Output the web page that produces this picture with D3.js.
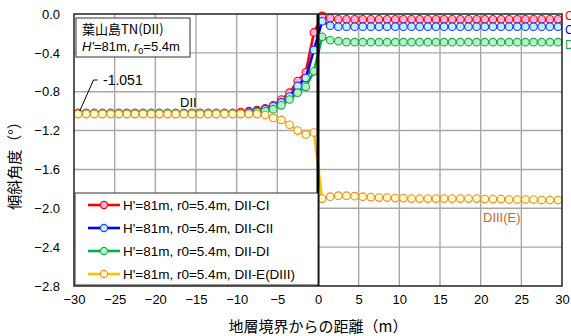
<!DOCTYPE html>
<html>
<head>
<meta charset="utf-8">
<script src="https://cdn.jsdelivr.net/npm/d3@7"></script>
<style>
  body { margin: 0; background: #fff; }
  svg { display: block; font-family: "Liberation Sans", Arial, "Noto Sans CJK JP", sans-serif; }
</style>
</head>
<body>
<svg id="chart" width="571" height="336"></svg>
<script>
// distance from boundary (m)
const xPos = [
  -29.5, -28.5, -27.5, -26.5, -25.5, -24.5, -23.5, -22.5, -21.5, -20.5,
  -19.5, -18.5, -17.5, -16.5, -15.5, -14.5, -13.5, -12.5, -11.5, -10.5,
  -9.5, -8.5, -7.5, -6.5, -5.5, -4.5, -3.5, -2.5, -1.5, -0.5,
  0.5, 1.5, 2.5, 3.5, 4.5, 5.5, 6.5, 7.5, 8.5, 9.5,
  10.5, 11.5, 12.5, 13.5, 14.5, 15.5, 16.5, 17.5, 18.5, 19.5,
  20.5, 21.5, 22.5, 23.5, 24.5, 25.5, 26.5, 27.5, 28.5, 29.5
];
const valCI = [
  -1.02, -1.02, -1.02, -1.02, -1.02, -1.02, -1.02, -1.02, -1.02, -1.02,
  -1.02, -1.02, -1.02, -1.02, -1.02, -1.02, -1.02, -1.02, -1.02, -1.02,
  -1.01, -1.00, -0.99, -0.97, -0.94, -0.88, -0.81, -0.69, -0.60, -0.19,
  -0.02, -0.045, -0.055, -0.055, -0.055, -0.055, -0.055, -0.055, -0.055, -0.055,
  -0.055, -0.055, -0.055, -0.055, -0.055, -0.055, -0.055, -0.055, -0.055, -0.055,
  -0.055, -0.055, -0.055, -0.055, -0.055, -0.055, -0.055, -0.055, -0.055, -0.055
];
const valCII = [
  -1.02, -1.02, -1.02, -1.02, -1.02, -1.02, -1.02, -1.02, -1.02, -1.02,
  -1.02, -1.02, -1.02, -1.02, -1.02, -1.02, -1.02, -1.02, -1.02, -1.02,
  -1.02, -1.01, -1.00, -0.98, -0.95, -0.91, -0.85, -0.74, -0.66, -0.37,
  -0.075, -0.12, -0.13, -0.13, -0.13, -0.13, -0.13, -0.13, -0.13, -0.13,
  -0.13, -0.13, -0.13, -0.13, -0.13, -0.13, -0.13, -0.13, -0.13, -0.13,
  -0.13, -0.13, -0.13, -0.13, -0.13, -0.13, -0.13, -0.13, -0.13, -0.13
];
const valDI = [
  -1.02, -1.02, -1.02, -1.02, -1.02, -1.02, -1.02, -1.02, -1.02, -1.02,
  -1.02, -1.02, -1.02, -1.02, -1.02, -1.02, -1.02, -1.02, -1.02, -1.02,
  -1.02, -1.02, -1.01, -1.00, -0.98, -0.94, -0.88, -0.81, -0.75, -0.59,
  -0.235, -0.27, -0.28, -0.29, -0.29, -0.29, -0.29, -0.29, -0.29, -0.29,
  -0.29, -0.29, -0.29, -0.29, -0.29, -0.29, -0.29, -0.29, -0.29, -0.29,
  -0.29, -0.29, -0.29, -0.29, -0.29, -0.29, -0.29, -0.29, -0.29, -0.29
];
const valE = [
  -1.03, -1.03, -1.03, -1.03, -1.03, -1.03, -1.03, -1.03, -1.03, -1.03,
  -1.03, -1.03, -1.03, -1.03, -1.03, -1.03, -1.03, -1.03, -1.03, -1.03,
  -1.03, -1.03, -1.03, -1.04, -1.07, -1.09, -1.14, -1.20, -1.24, -1.22,
  -1.90, -1.88, -1.87, -1.87, -1.875, -1.88, -1.885, -1.89, -1.89, -1.895,
  -1.895, -1.90, -1.90, -1.90, -1.90, -1.90, -1.90, -1.90, -1.90, -1.90,
  -1.905, -1.905, -1.905, -1.91, -1.91, -1.91, -1.91, -1.915, -1.915, -1.915
];
const xTicks = [-30, -25, -20, -15, -10, -5, 0, 5, 10, 15, 20, 25, 30];
const yTicks = [0, -0.4, -0.8, -1.2, -1.6, -2.0, -2.4, -2.8];

const series = [
  { name: "H'=81m, r0=5.4m, DII-CI", vals: valCI, line: "#ff0000", edge: "#ff0000", fill: "#ffb3dd", tag: "CI", tagY: 20 },
  { name: "H'=81m, r0=5.4m, DII-CII", vals: valCII, line: "#0000ff", edge: "#1f3cff", fill: "#bff0ff", tag: "CII", tagY: 34 },
  { name: "H'=81m, r0=5.4m, DII-DI", vals: valDI, line: "#00b050", edge: "#1aaa50", fill: "#b8f0c4", tag: "DI", tagY: 49 },
  { name: "H'=81m, r0=5.4m, DII-E(DIII)", vals: valE, line: "#ffc000", edge: "#f08a30", fill: "#ffffc8", tag: null }
];

const margin = { left: 74, right: 9, top: 14, bottom: 50 };
const W = 571, H = 336;
const svg = d3.select("#chart");

const x = d3.scaleLinear().domain([-30, 30]).range([margin.left, W - margin.right]);
const y = d3.scaleLinear().domain([-2.8, 0]).range([H - margin.bottom, margin.top]);

// grid
const grid = svg.append("g");
grid.selectAll("line.vg").data(xTicks.slice(1, -1)).join("line")
  .attr("x1", d => x(d)).attr("x2", d => x(d))
  .attr("y1", y(0)).attr("y2", y(-2.8))
  .attr("stroke", "#a8a8a8").attr("stroke-width", 1.4);
grid.selectAll("line.hg").data(yTicks.slice(1, -1)).join("line")
  .attr("y1", d => y(d)).attr("y2", d => y(d))
  .attr("x1", x(-30)).attr("x2", x(30))
  .attr("stroke", "#a8a8a8").attr("stroke-width", 1.4);

// axes labels (ticks)
const xAxis = svg.append("g")
  .attr("transform", `translate(0,${y(-2.8)})`)
  .call(d3.axisBottom(x).tickValues(xTicks).tickSize(0).tickPadding(9).tickFormat(d3.format("d")));
xAxis.select(".domain").remove();
xAxis.selectAll("text").attr("font-size", 13).attr("fill", "#000")
  .attr("font-family", "'Liberation Sans', Arial, sans-serif");

const yAxis = svg.append("g")
  .attr("transform", `translate(${x(-30)},0)`)
  .call(d3.axisLeft(y).tickValues(yTicks).tickSize(0).tickPadding(14).tickFormat(d3.format(".1f")));
yAxis.select(".domain").remove();
yAxis.selectAll("text").attr("font-size", 13).attr("fill", "#000")
  .attr("font-family", "'Liberation Sans', Arial, sans-serif");

// clipped plotting area
svg.append("clipPath").attr("id", "clip").append("rect")
  .attr("x", x(-30)).attr("y", y(0) - 6).attr("width", x(30) - x(-30)).attr("height", y(-2.8) - y(0) + 6);

const plot = svg.append("g").attr("clip-path", "url(#clip)");

const lineGen = d3.line().x(d => x(d[0])).y(d => y(d[1]));

series.forEach(s => {
  const pts = xPos.map((xv, i) => [xv, s.vals[i]]);
  const g = plot.append("g");
  g.append("path")
    .attr("d", lineGen(pts.concat([[30, s.vals[s.vals.length - 1]]])))
    .attr("fill", "none").attr("stroke", s.line).attr("stroke-width", 2.6);
  g.selectAll("circle").data(pts).join("circle")
    .attr("cx", d => x(d[0])).attr("cy", d => y(d[1])).attr("r", 3.8)
    .attr("fill", s.fill).attr("stroke", s.edge).attr("stroke-width", 1.1);
});

// boundary line at x = 0
svg.append("line")
  .attr("x1", x(0)).attr("x2", x(0)).attr("y1", y(0)).attr("y2", y(-2.8))
  .attr("stroke", "#000").attr("stroke-width", 3);

// frame
svg.append("rect")
  .attr("x", x(-30)).attr("y", y(0)).attr("width", x(30) - x(-30)).attr("height", y(-2.8) - y(0))
  .attr("fill", "none").attr("stroke", "#222").attr("stroke-width", 1.5);

// legend
const lg = svg.append("g");
lg.append("rect").attr("x", 75).attr("y", 193).attr("width", 243).attr("height", 92)
  .attr("fill", "#fff").attr("stroke", "#333").attr("stroke-width", 1);
series.forEach((s, i) => {
  const cy = 205 + i * 23;
  lg.append("line").attr("x1", 88).attr("x2", 120).attr("y1", cy).attr("y2", cy)
    .attr("stroke", s.line).attr("stroke-width", 2.6);
  lg.append("circle").attr("cx", 104).attr("cy", cy).attr("r", 3.6)
    .attr("fill", s.fill).attr("stroke", s.edge).attr("stroke-width", 1.1);
  lg.append("text").attr("x", 123).attr("y", cy + 5).attr("font-size", 13.5).text(s.name);
});

// info box
const ib = svg.append("g");
ib.append("rect").attr("x", 76).attr("y", 18).attr("width", 114).attr("height", 39)
  .attr("fill", "#fff").attr("stroke", "#333").attr("stroke-width", 1);
ib.append("text").attr("x", 82).attr("y", 34).attr("font-size", 13)
  .attr("font-family", "'Noto Sans CJK JP', sans-serif").text("葉山島TN(DII)");
const t2 = ib.append("text").attr("x", 82).attr("y", 51).attr("font-size", 13);
t2.append("tspan").attr("font-style", "italic").text("H'");
t2.append("tspan").text("=81m, ");
t2.append("tspan").attr("font-style", "italic").text("r");
t2.append("tspan").attr("font-size", 9).attr("dy", 3).text("0");
t2.append("tspan").attr("dy", -3).text("=5.4m");

// annotations
svg.append("path")
  .attr("d", `M${x(-27.1)},80 L${x(-27.6)},80 L${x(-29.3)},${y(valE[0]) - 3}`)
  .attr("fill", "none").attr("stroke", "#000").attr("stroke-width", 1);
svg.append("text").attr("x", 103).attr("y", 85).attr("font-size", 14).text("-1.051");
svg.append("text").attr("x", 180).attr("y", 107).attr("font-size", 13).text("DII");
svg.append("text").attr("x", 483).attr("y", 222).attr("font-size", 13).attr("fill", "#d0641e").text("DIII(E)");

// end labels (cut by the window edge, as in the source figure)
series.filter(s => s.tag).forEach(s => {
  svg.append("text").attr("x", 565).attr("y", s.tagY)
    .attr("font-size", 12).attr("fill", s.line).text(s.tag);
});

// axis titles
svg.append("text").attr("x", x(0)).attr("y", 332).attr("text-anchor", "middle")
  .attr("font-size", 15).attr("font-family", "'Noto Sans CJK JP', sans-serif")
  .text("地層境界からの距離（m）");
svg.append("text").attr("transform", "translate(20,162) rotate(-90)").attr("text-anchor", "middle")
  .attr("font-size", 15).attr("font-family", "'Noto Sans CJK JP', sans-serif")
  .text("傾斜角度（°）");
</script>
</body>
</html>
